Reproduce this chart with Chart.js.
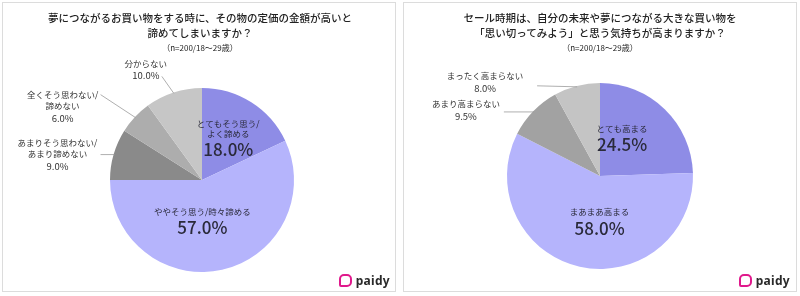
<!DOCTYPE html>
<html lang="ja">
<head>
<meta charset="utf-8">
<script src="https://cdn.jsdelivr.net/npm/chart.js@4.4.1/dist/chart.umd.min.js"></script>
<style>
  body { margin: 0; width: 800px; height: 296px; background: #fff; position: relative; overflow: hidden;
         font-family: "Noto Sans CJK JP", "Noto Sans", sans-serif; }
  .panel { position: absolute; top: 2px; width: 394px; height: 290px; border: 1px solid #dcdcdc; box-sizing: border-box; }
  .title { position: absolute; left: 0; width: 100%; text-align: center; color: #222;
           font-size: 10.5px; font-weight: 500; line-height: 14.5px; top: 11px; }
  .sub { font-size: 8px; line-height: 12px; font-weight: 400; }
  canvas { position: absolute; top: 0; }
  .logo { position: absolute; bottom: 7px; right: 10px; font: 700 12px "Noto Sans", sans-serif; color: #2a2a2a; letter-spacing: 0.3px; }
  .logo i { display: inline-block; width: 9px; height: 9px; border: 2px solid #e0198c; border-radius: 5px 5px 5px 2px;
            margin-right: 4px; vertical-align: -2px; }
</style>
</head>
<body>
<div class="panel" style="left:2px"></div>
<div class="panel" style="left:403px"></div>

<canvas id="left" width="400" height="296" style="left:0"></canvas>
<canvas id="right" width="400" height="296" style="left:400px"></canvas>

<div class="title" style="left:0;width:400px">夢につながるお買い物をする時に、その物の定価の金額が高いと<br>諦めてしまいますか？<br><span class="sub">（n=200/18〜29歳）</span></div>
<div class="title" style="left:400px;width:400px">セール時期は、自分の未来や夢につながる大きな買い物を<br>「思い切ってみよう」と思う気持ちが高まりますか？<br><span class="sub">（n=200/18〜29歳）</span></div>

<div class="logo" style="right:410px"><i></i>paidy</div>
<div class="logo" style="right:10px"><i></i>paidy</div>

<script>
// 左: 定価が高いと諦めるか
const leftLabels = [['とてもそう思う/', 'よく諦める'], ['ややそう思う/時々諦める'], ['あまりそう思わない/', 'あまり諦めない'], ['全くそう思わない/', '諦めない'], ['分からない']];
const leftValues = [18.0, 57.0, 9.0, 6.0, 10.0];
const leftColors = ['#8e8ce6', '#b5b4fc', '#8a8a8a', '#adadad', '#c6c6c6'];

// 右: セール時期に思い切れるか
const rightLabels = [['とても高まる'], ['まあまあ高まる'], ['あまり高まらない'], ['まったく高まらない']];
const rightValues = [24.5, 58.0, 9.5, 8.0];
const rightColors = ['#8e8ce6', '#b5b4fc', '#a2a2a2', '#c4c4c4'];

// ラベルの置き方 (内側: 半径比と角度ずれ / 外側: 引き出し線の始点ずれと文字位置)
const leftPlace = [
  { inside: true, f: 0.6, da: -4 },
  { inside: true, f: 0.38, da: 12 },
  { ex: -14, ey: 0, tx: -43, ty: -12 },
  { ex: -35, ey: -23, tx: -38, ty: 0 },
  { ex: -12, ey: -17, tx: -16, ty: -13 }
];
const rightPlace = [
  { inside: true, f: 0.53, da: -17.5 },
  { inside: true, f: 0.42, da: -12 },
  { ex: -30, ey: 0, tx: -38, ty: -8 },
  { ex: -40, ey: -1, tx: -52, ty: -10 }
];

const labelPlugin = {
  id: 'sliceLabels',
  afterDatasetsDraw(chart, args, opts) {
    const ctx = chart.ctx;
    const meta = chart.getDatasetMeta(0);
    const values = chart.data.datasets[0].data;
    ctx.save();
    ctx.textAlign = 'center';
    ctx.textBaseline = 'middle';
    meta.data.forEach((arc, i) => {
      const p = arc.getProps(['x', 'y', 'startAngle', 'endAngle', 'outerRadius'], true);
      const mid = (p.startAngle + p.endAngle) / 2;
      const lines = chart.data.labels[i];
      const pct = values[i].toFixed(1) + '%';
      const pl = opts.place[i];
      if (pl.inside) {
        const a = mid + pl.da * Math.PI / 180;
        const cx = p.x + Math.cos(a) * p.outerRadius * pl.f;
        const cy = p.y + Math.sin(a) * p.outerRadius * pl.f;
        const top = cy - (lines.length * 10 + 4) / 2;
        ctx.fillStyle = '#2a2a3a';
        ctx.font = '400 8.5px "Noto Sans CJK JP"';
        lines.forEach((t, k) => ctx.fillText(t, cx, top + k * 10 + 4));
        ctx.font = '500 17px "Noto Sans CJK JP"';
        ctx.fillText(pct, cx, top + lines.length * 10 + 10);
      } else {
        const edgeX = p.x + Math.cos(mid) * p.outerRadius * 0.99;
        const edgeY = p.y + Math.sin(mid) * p.outerRadius * 0.99;
        const sx = edgeX + pl.ex, sy = edgeY + pl.ey;
        ctx.strokeStyle = '#9a9a9a';
        ctx.lineWidth = 0.8;
        ctx.beginPath();
        ctx.moveTo(sx, sy);
        ctx.lineTo(edgeX, edgeY);
        ctx.stroke();
        ctx.fillStyle = '#333';
        const tx = sx + pl.tx, ty = sy + pl.ty;
        ctx.font = '400 8.5px "Noto Sans CJK JP"';
        lines.forEach((t, k) => ctx.fillText(t, tx, ty + k * 11.5));
        ctx.font = '400 9.5px "Noto Sans CJK JP"';
        ctx.fillText(pct, tx, ty + lines.length * 11.5 + 1);
      }
    });
    ctx.restore();
  }
};

function makePie(id, labels, values, colors, place, pad) {
  new Chart(document.getElementById(id), {
    type: 'pie',
    data: { labels: labels, datasets: [{ data: values, backgroundColor: colors, borderWidth: 0 }] },
    options: {
      responsive: false,
      animation: false,
      layout: { padding: pad },
      plugins: { legend: { display: false }, tooltip: { enabled: false }, sliceLabels: { place: place } }
    },
    plugins: [labelPlugin]
  });
}

makePie('left', leftLabels, leftValues, leftColors, leftPlace, { left: 110, right: 106, top: 88, bottom: 24 });
makePie('right', rightLabels, rightValues, rightColors, rightPlace, { left: 107, right: 107, top: 83, bottom: 27 });
</script>
</body>
</html>
